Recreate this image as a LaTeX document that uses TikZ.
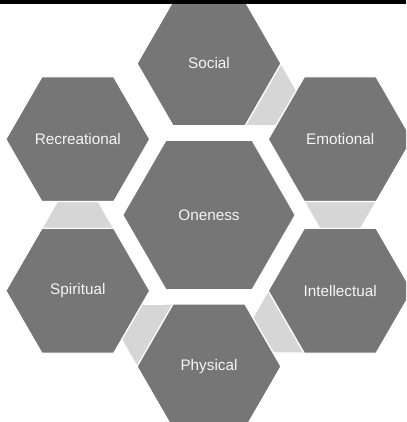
\documentclass[tikz,border=0pt]{standalone}
\usepackage{fontspec}
\setmainfont{Liberation Sans}
\usetikzlibrary{shapes.geometric,calc}
\definecolor{hexgray}{HTML}{767676}
\definecolor{linkgray}{HTML}{D6D6D6}
\definecolor{labelwhite}{HTML}{F5F5F5}
\tikzset{
  hexbase/.style={regular polygon, regular polygon sides=6, fill=hexgray, draw=white,
    line width=1.2pt, inner sep=0pt, outer sep=0pt, text=labelwhite,
    font=\fontsize{15.3}{18}\selectfont},
  outerhex/.style={hexbase, minimum size=144pt},
  centerhex/.style={hexbase, minimum size=172.6pt},
  linkshape/.style={fill=linkgray, draw=white, line width=1.2pt},
  topbar/.style={fill=black},
}
\begin{document}
\begin{tikzpicture}[x=1pt,y=1pt]
\useasboundingbox (0,0) rectangle (406,422);
\begin{scope}
\clip (0,0) rectangle (406,422);
\coordinate (cO) at (209,207);
\path (cO) ++(90:151.5) coordinate (cS);
\path (cO) ++(30:151.5) coordinate (cE);
\path (cO) ++(-30:151.5) coordinate (cI);
\path (cO) ++(-90:151.5) coordinate (cP);
\path (cO) ++(210:151.5) coordinate (cSp);
\path (cO) ++(150:151.5) coordinate (cR);
% connector pieces between neighbouring outer hexagons
\foreach \a/\t in {cS/-30, cE/-90, cI/210, cP/150, cSp/90}{
  \path[linkshape]
    ($(\a)+({\t+30}:72)$) -- ($(\a)+({\t-30}:72)$)
    -- ($(\a)+(\t:89.15)+({\t-90}:20.5)$)
    -- ($(\a)+(\t:89.15)+({\t+90}:20.5)$) -- cycle;
}
\node[centerhex] (oneness) at (cO) {Oneness};
\node[outerhex] (social) at (cS) {Social};
\node[outerhex] (emotional) at (cE) {Emotional};
\node[outerhex] (intellectual) at (cI) {Intellectual};
\node[outerhex] (physical) at (cP) {Physical};
\node[outerhex] (spiritual) at (cSp) {Spiritual};
\node[outerhex] (recreational) at (cR) {Recreational};
\path[topbar] (0,417.6) rectangle (406,422);
\end{scope}
\end{tikzpicture}
\end{document}
